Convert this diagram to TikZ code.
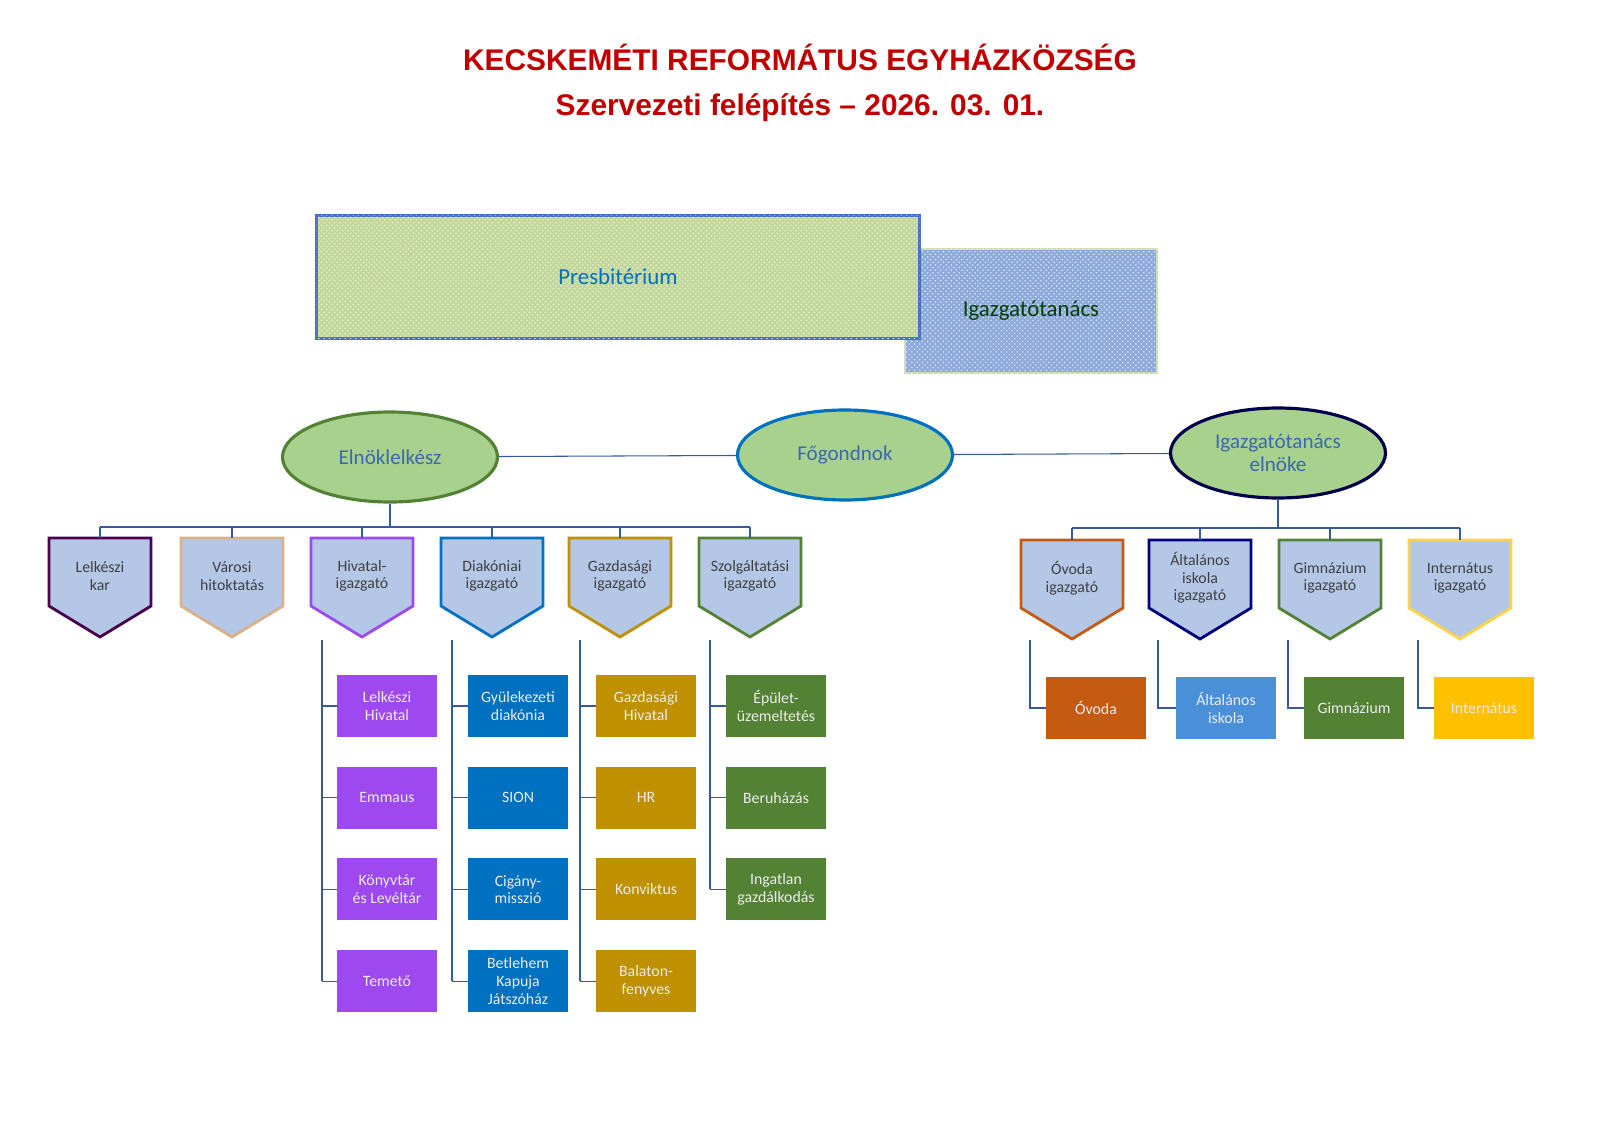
\documentclass[tikz,border=0pt]{standalone}
\usepackage{fontspec}
\setmainfont{Carlito}
\newfontfamily\titlefont{Liberation Sans}
\usetikzlibrary{positioning, patterns, shapes.geometric}
\definecolor{titlered}{HTML}{C00000}
\definecolor{presgreen}{HTML}{C3D69B}
\definecolor{igblue}{HTML}{8EA9DB}
\definecolor{ellgreen}{HTML}{A9D18E}
\definecolor{pentfill}{HTML}{B4C7E7}
\definecolor{hivpurple}{HTML}{9E48F0}
\definecolor{diablue}{HTML}{0070C0}
\definecolor{gazgold}{HTML}{BF9000}
\definecolor{szolgreen}{HTML}{548235}
\definecolor{ovorange}{HTML}{C55A11}
\definecolor{altblue}{HTML}{4A90D9}
\definecolor{intyellow}{HTML}{FFC000}
\definecolor{linkblue}{HTML}{4472C4}

% pentagon pointing down: name, x, y (top), border colour, text
\newcommand\hpent[5]{%
  \draw[pent, draw=#4] ({#2-51},#3) -- ({#2+51},#3) -- ({#2+51},{#3+68}) -- (#2,{#3+99}) -- ({#2-51},{#3+68}) -- cycle;
  \coordinate (#1) at (#2,#3);
  \node[penttext] (#1-t) at (#2,{#3+38}) {#5};
}

\begin{document}
\begin{tikzpicture}[x=0.02cm, y=-0.02cm,
    every node/.style={font=\fontsize{9pt}{10pt}\selectfont}
  ]

  % --- Style Definitions ---
  \tikzset{
    pent/.style={fill=pentfill, line width=1.6pt},
    penttext/.style={align=center, text=black!75, inner sep=0pt},
    ell/.style={ellipse, fill=ellgreen, line width=1.8pt, minimum width=215*0.02cm,
      minimum height=90*0.02cm, align=center, text=linkblue!90!black,
      font=\fontsize{12pt}{13pt}\selectfont},
    unit/.style={minimum width=2cm, minimum height=1.24cm, inner sep=1pt,
      align=center, text=white!92!black},
    link/.style={draw=linkblue!80!black, line width=0.6pt},
    title/.style={font=\titlefont\bfseries\fontsize{17pt}{20pt}\selectfont, text=titlered}
  }

  \useasboundingbox (0,0) rectangle (1600,1132);

  % --- Title ---
  \node[title] (title1) at (800,57) {KECSKEMÉTI REFORMÁTUS EGYHÁZKÖZSÉG};
  \node[title] (title2) at (800,108) {Szervezeti felépítés – 2026. 03. 01.};

  % --- Boards ---
  \node[draw=presgreen!80!white, line width=1.5pt, fill=igblue,
    minimum width=252*0.02cm, minimum height=124*0.02cm] (igbg) at (1031,311) {};
  \fill[pattern=crosshatch dots, pattern color=white!70!igblue] (igbg.south west) rectangle (igbg.north east);
  \node[text=green!25!black, font=\fontsize{13pt}{15pt}\selectfont] (igtext) at (1031,311) {Igazgatótanács};
  \node[draw=linkblue, line width=1.8pt, fill=presgreen, minimum width=603*0.02cm,
    minimum height=123*0.02cm] (pres) at (618,277) {};
  \fill[pattern=crosshatch dots, pattern color=white!60!presgreen] ([shift={(1pt,1pt)}]pres.south west) rectangle ([shift={(-1pt,-1pt)}]pres.north east);
  \node[text=diablue, font=\fontsize{13pt}{15pt}\selectfont] (prestext) at (618,277) {Presbitérium};

  % --- Leaders ---
  \node[ell, draw=szolgreen] (elnok) at (390,457) {Elnöklelkész};
  \node[ell, draw=diablue] (fogondnok) at (845,455) {Főgondnok};
  \node[ell, draw=blue!30!black] (igelnok) at (1278,453) {Igazgatótanács\\elnöke};
  \draw[link] (elnok) -- (fogondnok);
  \draw[link] (fogondnok) -- (igelnok);

  % --- Left branch heads ---
  \hpent{lelk}{100}{538}{violet!60!black}{Lelkészi\\kar}
  \hpent{varosi}{232}{538}{brown!60!white}{Városi\\hitoktatás}
  \hpent{hiv}{362}{538}{hivpurple}{Hivatal-\\igazgató}
  \hpent{dia}{492}{538}{diablue}{Diakóniai\\igazgató}
  \hpent{gaz}{620}{538}{gazgold}{Gazdasági\\igazgató}
  \hpent{szol}{750}{538}{szolgreen}{Szolgáltatási\\igazgató}
  \coordinate (lbus) at (390,527);
  \draw[link] (elnok) -- (lbus);
  \draw[link] (lelk |- lbus) -- (szol |- lbus);
  \foreach \n in {lelk, varosi, hiv, dia, gaz, szol}
    \draw[link] (\n |- lbus) -- (\n);

  % --- Right branch heads ---
  \hpent{ovi}{1072}{540}{ovorange}{Óvoda\\igazgató}
  \hpent{alt}{1200}{540}{blue!50!black}{Általános\\iskola\\igazgató}
  \hpent{gimn}{1330}{540}{szolgreen}{Gimnázium\\igazgató}
  \hpent{intn}{1460}{540}{intyellow!70!white}{Internátus\\igazgató}
  \coordinate (rbus) at (1278,528);
  \draw[link] (igelnok) -- (rbus);
  \draw[link] (ovi |- rbus) -- (intn |- rbus);
  \foreach \n in {ovi, alt, gimn, intn}
    \draw[link] (\n |- rbus) -- (\n);

  % --- Units under the left heads ---
  \foreach \col/\x/\lx/\clr/\lst in {
      hiv/387/322/hivpurple/{Lelkészi\\Hivatal,Emmaus,Könyvtár\\és Levéltár,Temető},
      dia/518/452/diablue/{Gyülekezeti\\diakónia,SION,Cigány-\\misszió,Betlehem\\Kapuja\\Játszóház},
      gaz/646/580/gazgold/{Gazdasági\\Hivatal,HR,Konviktus,Balaton-\\fenyves},
      szol/776/710/szolgreen/{Épület-\\üzemeltetés,Beruházás,Ingatlan\\gazdálkodás}} {
    \coordinate (\col-top) at (\lx,640);
    \foreach \t [count=\i] in \lst {
      \node[unit, fill=\clr] (\col-\i) at (\x,{706+(\i-1)*91.7}) {\t};
      \draw[link] (\col-top |- \col-\i) -- (\col-\i.west);
      \xdef\lastunit{\i}
    }
    \draw[link] (\col-top) -- (\col-top |- \col-\lastunit);
  }

  % --- Units under the right heads ---
  \foreach \col/\x/\lx/\clr/\t in {
      ovi/1096/1030/ovorange/Óvoda, alt/1226/1158/altblue/{Általános\\iskola},
      gimn/1354/1288/szolgreen/Gimnázium, intn/1484/1418/intyellow/Internátus} {
    \node[unit, fill=\clr] (\col-u) at (\x,708) {\t};
    \coordinate (\col-top) at (\lx,640);
    \draw[link] (\col-top) |- (\col-u.west);
  }

\end{tikzpicture}
\end{document}
